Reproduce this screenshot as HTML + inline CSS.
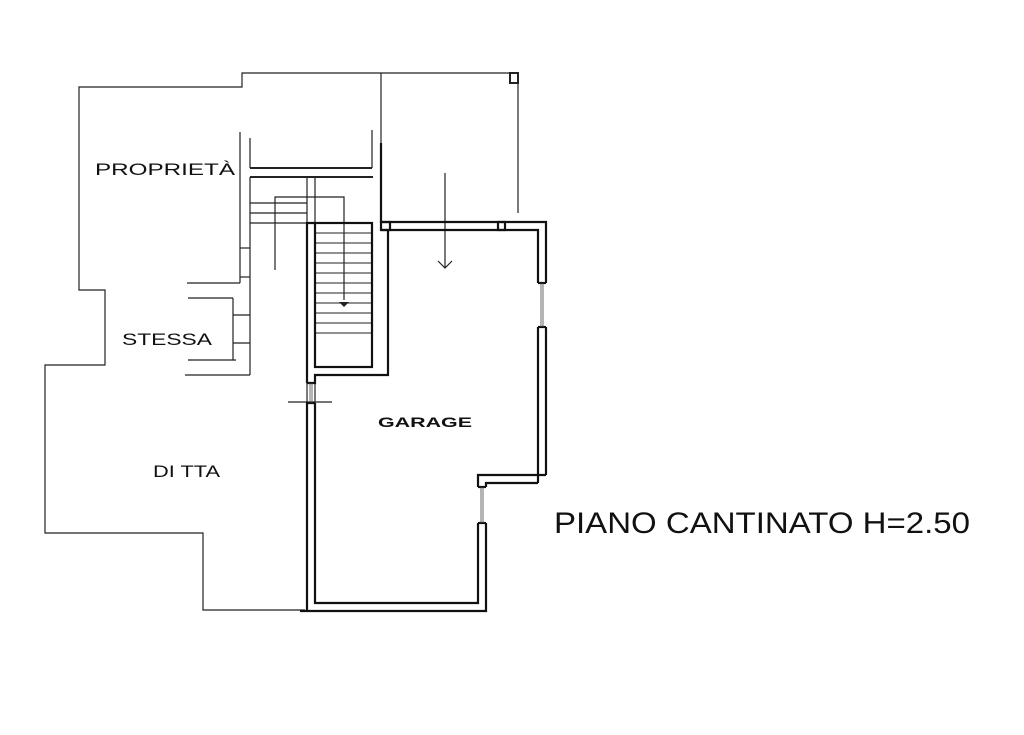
<!DOCTYPE html>
<html><head><meta charset="utf-8"><style>html,body{margin:0;padding:0;background:#fff}svg{display:block}</style></head>
<body>
<svg width="1024" height="735" viewBox="0 0 1024 735" xmlns="http://www.w3.org/2000/svg">
<g fill="none" stroke="#222" stroke-width="1.2">
<!-- outer property line -->
<polyline points="518,213 518,83 518,73 242,73 242,87 79,87 79,290 105,290 105,365 45,365 45,533 203,533 203,610 305,610"/>
<rect x="510" y="73" width="8" height="10" stroke-width="2"/>
<line x1="381" y1="73" x2="381" y2="150"/>
<!-- left interior lines -->
<line x1="240" y1="132" x2="240" y2="283"/>
<line x1="250" y1="138" x2="250" y2="168"/>
<line x1="372" y1="130" x2="372" y2="168"/>
<line x1="250" y1="168" x2="372" y2="168" stroke-width="2"/>
<line x1="250" y1="177" x2="373" y2="177" stroke-width="2"/>
<line x1="250" y1="177" x2="250" y2="375"/>
<line x1="240" y1="248" x2="250" y2="248"/>
<line x1="240" y1="277" x2="250" y2="277"/>
<line x1="187" y1="283" x2="240" y2="283"/>
<line x1="188" y1="298" x2="233" y2="298"/>
<line x1="233" y1="298" x2="233" y2="360"/>
<line x1="233" y1="315" x2="250" y2="315"/>
<line x1="233" y1="343" x2="250" y2="343"/>
<line x1="188" y1="360" x2="236" y2="360"/>
<line x1="185" y1="375" x2="250" y2="375"/>
<line x1="250" y1="203" x2="307" y2="203"/>
<line x1="250" y1="213" x2="307" y2="213"/>
<line x1="250" y1="223" x2="307" y2="223"/>
<line x1="307" y1="177" x2="307" y2="223"/>
<line x1="315" y1="177" x2="315" y2="223"/>
<polyline points="275,270 275,197 344,197 344,300"/>
<line x1="288" y1="402" x2="332" y2="402"/>
<line x1="307" y1="383" x2="307" y2="403"/>
<line x1="315" y1="383" x2="315" y2="403"/>
<!-- stair steps -->
<g stroke-width="1">
<line x1="315" y1="233" x2="372" y2="233"/><line x1="315" y1="243" x2="372" y2="243"/>
<line x1="315" y1="253" x2="372" y2="253"/><line x1="315" y1="263" x2="372" y2="263"/>
<line x1="315" y1="273" x2="372" y2="273"/><line x1="315" y1="283" x2="372" y2="283"/>
<line x1="315" y1="293" x2="372" y2="293"/><line x1="315" y1="303" x2="372" y2="303"/>
<line x1="315" y1="313" x2="372" y2="313"/><line x1="315" y1="323" x2="372" y2="323"/>
<line x1="315" y1="333" x2="372" y2="333"/>
</g>
<line x1="445" y1="173" x2="445" y2="268"/>
<polyline points="438,261 445,268 452,261"/>
</g>
<polygon points="339,302 349,302 344,307" fill="#222"/>
<!-- thick walls -->
<g fill="none" stroke="#111" stroke-width="2.2">
<rect x="315" y="223" width="57" height="144"/>
<polyline points="307,383 307,223 315,223"/>
<polyline points="307,383 315,383 315,375 388,375 388,230"/>
<polyline points="381,143 381,222 498,222"/>
<line x1="381" y1="230" x2="498" y2="230"/>
<polyline points="498,222 546,222 546,283"/>
<polyline points="498,230 538,230 538,283"/>
<line x1="538" y1="283" x2="546" y2="283"/>
<line x1="538" y1="327" x2="546" y2="327"/>
<polyline points="546,327 546,475"/>
<polyline points="538,327 538,483"/>
<polyline points="546,475 478,475 478,487"/>
<polyline points="538,483 486,483 486,487"/>
<line x1="478" y1="487" x2="486" y2="487"/>
<line x1="478" y1="523" x2="486" y2="523"/>
<polyline points="478,523 478,603 315,603 315,403"/>
<polyline points="486,523 486,611 300,611"/>
<polyline points="307,611 307,403 315,403"/>
<rect x="381" y="222" width="9" height="8"/>
<rect x="498" y="222" width="7" height="8"/>
</g>
<g stroke="#444" stroke-width="0.8">
<line x1="541" y1="283" x2="541" y2="327"/><line x1="543" y1="283" x2="543" y2="327"/>
<line x1="481" y1="487" x2="481" y2="523"/><line x1="483" y1="487" x2="483" y2="523"/>
<line x1="310" y1="383" x2="310" y2="403"/><line x1="312" y1="383" x2="312" y2="403"/>
</g>
<g font-family="Liberation Sans, sans-serif" fill="#111">
<text x="95" y="175" font-size="17" textLength="140" lengthAdjust="spacingAndGlyphs">PROPRIETÀ</text>
<text x="122" y="345" font-size="17" textLength="90" lengthAdjust="spacingAndGlyphs">STESSA</text>
<text x="153" y="477" font-size="17" textLength="67" lengthAdjust="spacingAndGlyphs">DI TTA</text>
<text x="378" y="427" font-size="14" font-weight="bold" textLength="94" lengthAdjust="spacingAndGlyphs">GARAGE</text>
<text x="554" y="533" font-size="30" textLength="416" lengthAdjust="spacingAndGlyphs">PIANO CANTINATO H=2.50</text>
</g>
</svg>
</body></html>
